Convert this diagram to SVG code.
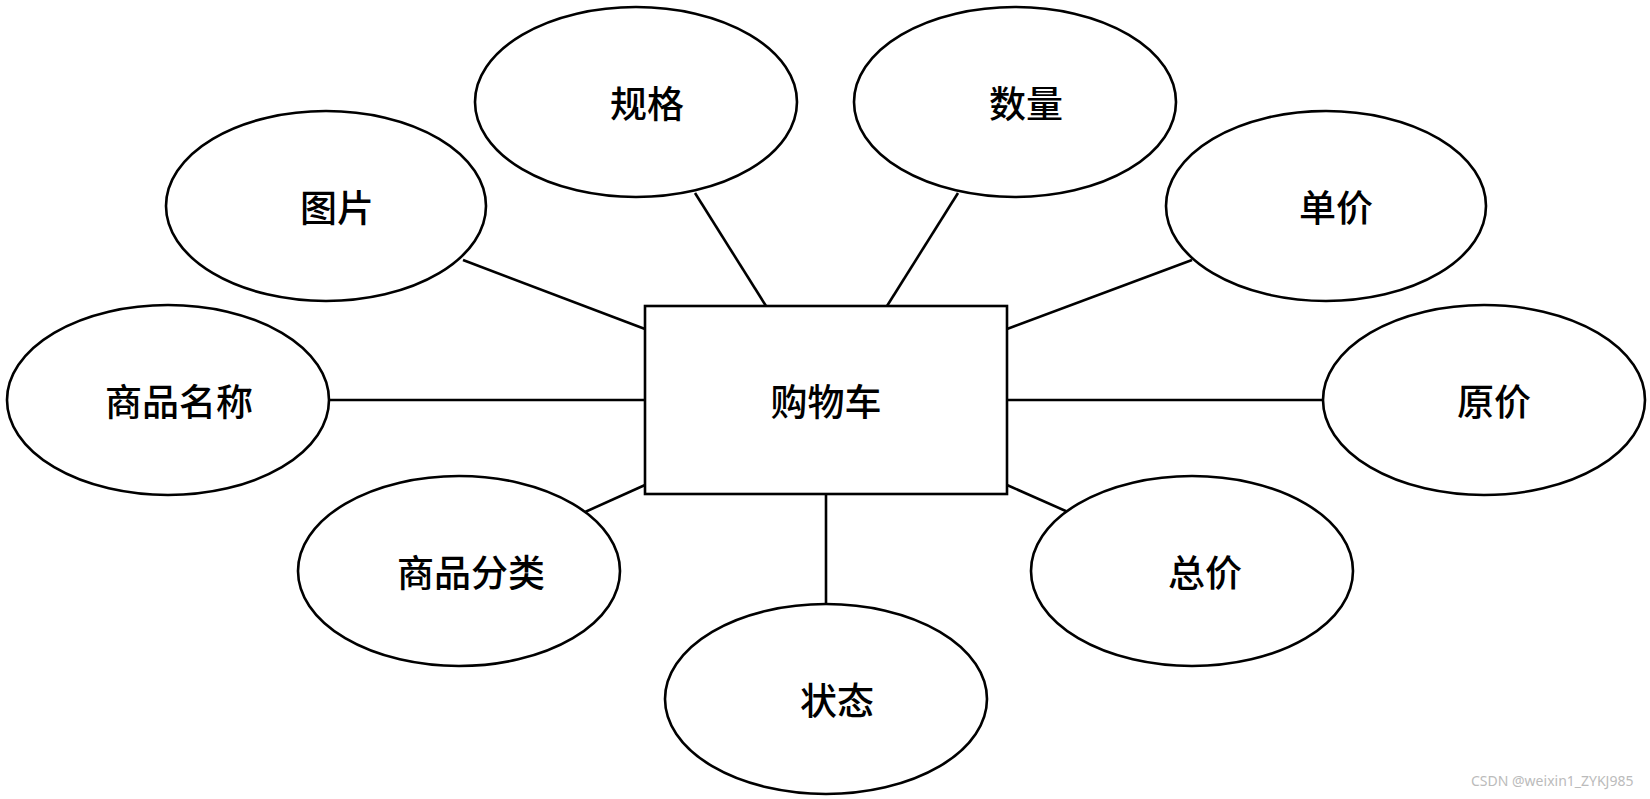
<svg xmlns="http://www.w3.org/2000/svg" width="1650" height="799" viewBox="0 0 1650 799">
<style>
.n{fill:#fff;stroke:#000;stroke-width:2.6}
.t{font-family:"Noto Sans CJK SC","Noto Sans",sans-serif;font-size:37px;font-weight:500;text-anchor:middle;dominant-baseline:central;fill:#000}
.c line{stroke:#000;stroke-width:2.6}
.w{font-family:"Noto Sans","Liberation Sans",sans-serif;font-size:14px;fill:#bbb}
</style>
<rect width="1650" height="799" fill="#fff"/>
<g class="c">
<line x1="463" y1="260" x2="645" y2="329"/>
<line x1="695" y1="193" x2="766" y2="306"/>
<line x1="958" y1="193" x2="887" y2="306"/>
<line x1="1192" y1="260" x2="1007" y2="329"/>
<line x1="329" y1="400" x2="645" y2="400"/>
<line x1="1007" y1="400" x2="1323" y2="400"/>
<line x1="585" y1="512" x2="645" y2="485"/>
<line x1="1068" y1="512" x2="1007" y2="485"/>
<line x1="826" y1="494" x2="826" y2="604"/>
</g>
<g id="cart"><rect class="n" x="645" y="306" width="362" height="188"/><text class="t" x="826" y="400">购物车</text></g>
<g id="guige"><ellipse class="n" cx="636" cy="102" rx="161" ry="95"/><text class="t" x="647" y="102">规格</text></g>
<g id="shuliang"><ellipse class="n" cx="1015" cy="102" rx="161" ry="95"/><text class="t" x="1026" y="102">数量</text></g>
<g id="tupian"><ellipse class="n" cx="326" cy="206" rx="160" ry="95"/><text class="t" x="337" y="206">图片</text></g>
<g id="danjia"><ellipse class="n" cx="1326" cy="206" rx="160" ry="95"/><text class="t" x="1336" y="206">单价</text></g>
<g id="mingcheng"><ellipse class="n" cx="168" cy="400" rx="161" ry="95"/><text class="t" x="179" y="400">商品名称</text></g>
<g id="yuanjia"><ellipse class="n" cx="1484" cy="400" rx="161" ry="95"/><text class="t" x="1494" y="400">原价</text></g>
<g id="fenlei"><ellipse class="n" cx="459" cy="571" rx="161" ry="95"/><text class="t" x="471" y="571">商品分类</text></g>
<g id="zongjia"><ellipse class="n" cx="1192" cy="571" rx="161" ry="95"/><text class="t" x="1205" y="571">总价</text></g>
<g id="zhuangtai"><ellipse class="n" cx="826" cy="699" rx="161" ry="95"/><text class="t" x="837" y="699">状态</text></g>
<text class="w" x="1471" y="786">CSDN @weixin1_ZYKJ985</text>
</svg>
